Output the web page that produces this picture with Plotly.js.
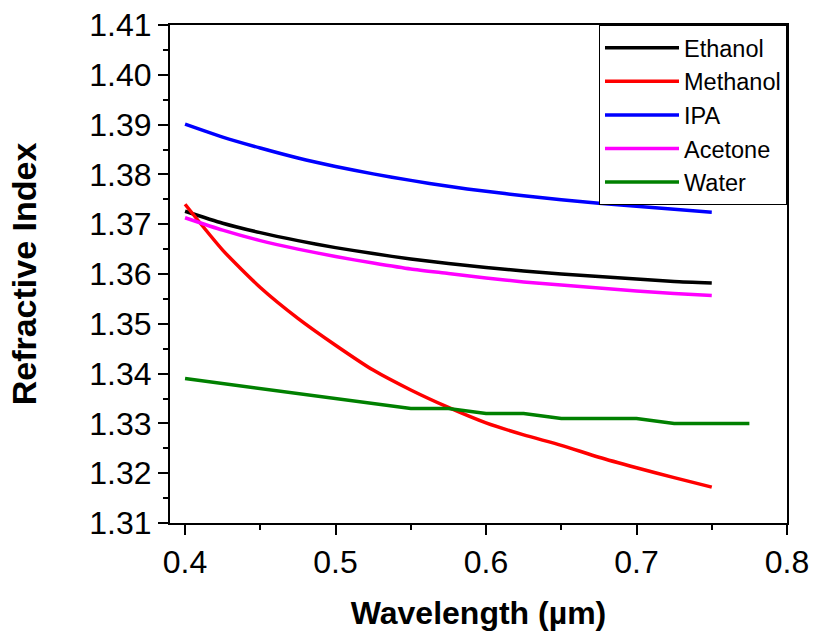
<!DOCTYPE html>
<html>
<head>
<meta charset="utf-8">
<script src="https://cdn.plot.ly/plotly-3.0.1.min.js"></script>
<style>html,body{margin:0;padding:0;background:#fff;}#chart{width:814px;height:637px;}</style>
</head>
<body>
<div id="chart"></div>
<script>
// Wavelength (µm)
const wavelength = [0.4, 0.425, 0.45, 0.475, 0.5, 0.525, 0.55, 0.575, 0.6, 0.625, 0.65, 0.675, 0.7, 0.725, 0.75];
const wavelengthWater = [0.4, 0.425, 0.45, 0.475, 0.5, 0.525, 0.55, 0.575, 0.6, 0.625, 0.65, 0.675, 0.7, 0.725, 0.75, 0.775];

const ethanol  = [1.3726, 1.3702, 1.3683, 1.3667, 1.3653, 1.3641, 1.3630, 1.3621, 1.3613, 1.3606, 1.3600, 1.3595, 1.3590, 1.3585, 1.3582];
const methanol = [1.3740, 1.3648, 1.3573, 1.3511, 1.3457, 1.3407, 1.3367, 1.3332, 1.3301, 1.3277, 1.3256, 1.3232, 1.3211, 1.3191, 1.3172];
const ipa      = [1.3901, 1.3875, 1.3853, 1.3833, 1.3816, 1.3801, 1.3788, 1.3776, 1.3766, 1.3757, 1.3749, 1.3742, 1.3736, 1.3730, 1.3724];
const acetone  = [1.3713, 1.3688, 1.3667, 1.3650, 1.3635, 1.3622, 1.3610, 1.3601, 1.3592, 1.3584, 1.3578, 1.3572, 1.3566, 1.3561, 1.3557];
const water    = [1.339, 1.338, 1.337, 1.336, 1.335, 1.334, 1.333, 1.333, 1.332, 1.332, 1.331, 1.331, 1.331, 1.330, 1.330, 1.330];

const seriesNames = ['Ethanol', 'Methanol', 'IPA', 'Acetone', 'Water'];
const seriesColors = ['#000000', '#ff0000', '#0000ff', '#ff00ff', '#008000'];
const seriesX = [wavelength, wavelength, wavelength, wavelength, wavelengthWater];
const seriesY = [ethanol, methanol, ipa, acetone, water];

const xTickVals = [0.4, 0.5, 0.6, 0.7, 0.8];
const yTickVals = [1.31, 1.32, 1.33, 1.34, 1.35, 1.36, 1.37, 1.38, 1.39, 1.40, 1.41];

const FONT = '"Liberation Sans", Arial, sans-serif';

const traces = seriesNames.map((name, i) => ({
  type: 'scatter',
  mode: 'lines',
  name: name,
  x: seriesX[i],
  y: seriesY[i],
  line: {color: seriesColors[i], width: 3.5, shape: 'spline', smoothing: 0.6}
}));
// Water is drawn with straight segments (step-like rounding in the source)
traces[4].line.shape = 'linear';

const layout = {
  width: 814,
  height: 637,
  margin: {l: 170, r: 27, t: 25, b: 114, pad: 0},
  paper_bgcolor: '#ffffff',
  plot_bgcolor: '#ffffff',
  font: {family: FONT, color: '#000000'},
  showlegend: true,
  legend: {
    x: 1, xanchor: 'right', y: 1, yanchor: 'top',
    bgcolor: '#ffffff', bordercolor: '#000000', borderwidth: 1,
    font: {family: FONT, size: 23.5, color: '#000000'},
    itemwidth: 74,
    tracegroupgap: 0
  },
  xaxis: {
    range: [0.39, 0.8],
    tickvals: xTickVals,
    ticktext: xTickVals.map(v => v.toFixed(1)),
    ticks: 'outside', ticklen: 10, tickwidth: 2, tickcolor: '#000000',
    minor: {dtick: 0.05, tick0: 0.4, ticks: 'outside', ticklen: 5, tickwidth: 2, tickcolor: '#000000', showgrid: false},
    showline: true, linewidth: 2, linecolor: '#000000', mirror: true,
    showgrid: false, zeroline: false,
    tickfont: {family: FONT, size: 32, color: '#000000'},
    title: {text: '<b>Wavelength (µm)</b>', font: {family: FONT, size: 32, color: '#000000'}, standoff: 22}
  },
  yaxis: {
    range: [1.31, 1.41],
    tickvals: yTickVals,
    ticktext: yTickVals.map(v => v.toFixed(2)),
    ticks: 'outside', ticklen: 10, tickwidth: 2, tickcolor: '#000000',
    minor: {dtick: 0.005, tick0: 1.31, ticks: 'outside', ticklen: 5, tickwidth: 2, tickcolor: '#000000', showgrid: false},
    showline: true, linewidth: 2, linecolor: '#000000', mirror: true,
    showgrid: false, zeroline: false,
    tickfont: {family: FONT, size: 32, color: '#000000'},
    title: {text: '<b>Refractive Index</b>', font: {family: FONT, size: 34, color: '#000000'}, standoff: 42}
  }
};

Plotly.newPlot('chart', traces, layout, {displayModeBar: false, staticPlot: true});
</script>
</body>
</html>
